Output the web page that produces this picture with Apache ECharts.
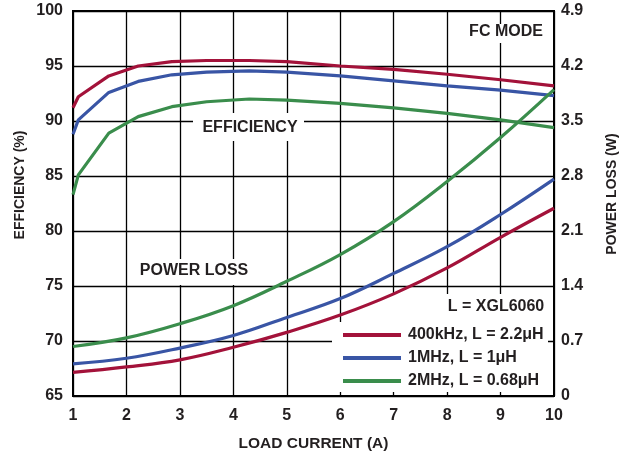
<!DOCTYPE html>
<html>
<head>
    <meta charset="utf-8">
    <title>Efficiency and power loss vs load current</title>
    <script src="https://cdn.jsdelivr.net/npm/echarts@6/dist/echarts.min.js"></script>
    <style type="text/css">
        html, body {
            margin: 0;
            padding: 0;
            background: #ffffff;
        }
        #chart {
            width: 626px;
            height: 457px;
        }
    </style>
</head>
<body>
<div id="chart"></div>
<script>
    // load current (A) where the efficiency curves were sampled
    var effCurrent = [1, 1.1, 1.67, 2.22, 2.85, 3.5, 4.3, 5, 6, 7, 8, 9, 10];
    // efficiency (%)
    var eff400k = [91.2, 92.2, 94.1, 95.0, 95.4, 95.5, 95.5, 95.4, 95.0, 94.7, 94.25, 93.75, 93.2];
    var eff1M = [88.8, 90.1, 92.6, 93.6, 94.2, 94.45, 94.55, 94.45, 94.1, 93.65, 93.2, 92.8, 92.3];
    var eff2M = [83.3, 85.1, 88.9, 90.4, 91.3, 91.75, 92.0, 91.9, 91.6, 91.2, 90.7, 90.1, 89.4];

    // load current (A) for the power loss curves
    var lossCurrent = [1, 2, 3, 4, 5, 6, 7, 8, 9, 10];
    // power loss (W)
    var loss400k = [0.30, 0.37, 0.46, 0.62, 0.81, 1.03, 1.30, 1.63, 2.02, 2.39];
    var loss1M = [0.41, 0.48, 0.61, 0.77, 1.00, 1.24, 1.56, 1.90, 2.31, 2.76];
    var loss2M = [0.63, 0.74, 0.92, 1.15, 1.46, 1.80, 2.22, 2.73, 3.29, 3.90];

    var seriesNames = ['400kHz, L = 2.2μH', '1MHz, L = 1μH', '2MHz, L = 0.68μH'];
    var seriesColors = ['#a3123a', '#3955a5', '#3a8d4c'];

    var textColor = '#231f20';
    var fontName = '"Liberation Sans", Arial, sans-serif';

    function pairs(xs, ys) {
        var out = [];
        for (var i = 0; i < xs.length; i++) {
            out.push([xs[i], ys[i]]);
        }
        return out;
    }

    function effSeries(idx, values) {
        return {
            name: seriesNames[idx],
            type: 'line',
            yAxisIndex: 0,
            data: pairs(effCurrent, values),
            showSymbol: false,
            lineStyle: {color: seriesColors[idx], width: 3.2},
            itemStyle: {color: seriesColors[idx]}
        };
    }

    function lossSeries(idx, values) {
        return {
            name: seriesNames[idx],
            type: 'line',
            yAxisIndex: 1,
            smooth: 0.4,
            data: pairs(lossCurrent, values),
            showSymbol: false,
            lineStyle: {color: seriesColors[idx], width: 3.2},
            itemStyle: {color: seriesColors[idx]}
        };
    }

    // white boxes behind the labels, on top of the grid lines
    function whiteBox(x, y, w, h) {
        return {
            type: 'rect',
            z: 1,
            shape: {x: x, y: y, width: w, height: h},
            style: {fill: '#ffffff'}
        };
    }

    function label(text, x, y, size, rotate) {
        return {
            type: 'text',
            z: 5,
            x: x,
            y: y,
            rotation: rotate ? Math.PI / 2 : 0,
            style: {
                text: text,
                fill: textColor,
                font: 'bold ' + size + 'px ' + fontName,
                textAlign: 'center',
                textVerticalAlign: 'middle'
            }
        };
    }

    var chart = echarts.init(document.getElementById('chart'));

    var option = {
        animation: false,
        textStyle: {fontFamily: fontName},
        grid: {
            left: 73,
            right: 72,
            top: 11,
            bottom: 60,
            show: true,
            borderColor: '#000000',
            borderWidth: 2,
            backgroundColor: 'transparent'
        },
        legend: {
            data: seriesNames,
            orient: 'vertical',
            left: 338,
            top: 322,
            icon: 'rect',
            itemWidth: 58,
            itemHeight: 4,
            itemGap: 7,
            textStyle: {
                color: textColor,
                fontSize: 16,
                fontWeight: 'bold',
                padding: [0, 0, 0, 2]
            }
        },
        xAxis: {
            type: 'value',
            min: 1,
            max: 10,
            interval: 1,
            name: 'LOAD CURRENT (A)',
            nameLocation: 'middle',
            nameGap: 40,
            nameTextStyle: {color: textColor, fontSize: 15.5, fontWeight: 'bold'},
            axisLine: {show: false},
            axisTick: {show: false},
            axisLabel: {color: textColor, fontSize: 16, fontWeight: 'bold', margin: 12},
            splitLine: {show: true, lineStyle: {color: '#000000', width: 1.3}}
        },
        yAxis: [
            {
                type: 'value',
                min: 65,
                max: 100,
                interval: 5,
                axisLine: {show: false},
                axisTick: {show: false},
                axisLabel: {color: textColor, fontSize: 16, fontWeight: 'bold', margin: 10},
                splitLine: {show: true, lineStyle: {color: '#000000', width: 1.3}}
            },
            {
                type: 'value',
                min: 0,
                max: 4.9,
                interval: 0.7,
                position: 'right',
                axisLine: {show: false},
                axisTick: {show: false},
                axisLabel: {
                    color: textColor, fontSize: 16, fontWeight: 'bold', margin: 7,
                    formatter: function (v) {
                        return v === 0 ? '0' : v.toFixed(1);
                    }
                },
                splitLine: {show: false}
            }
        ],
        graphic: {
            elements: [
                whiteBox(193, 113, 111, 28),
                whiteBox(132, 259, 124, 26),
                whiteBox(462, 24, 88, 19),
                whiteBox(332, 322, 216, 70),
                whiteBox(360, 294, 188, 28),
                label('EFFICIENCY', 250, 128, 16),
                label('POWER LOSS', 194, 271, 16),
                label('FC MODE', 506, 32, 16),
                label('L = XGL6060', 496, 307, 16),
                label('EFFICIENCY (%)', 20, 185, 14, true),
                label('POWER LOSS (W)', 612, 194, 14, true)
            ]
        },
        series: [
            effSeries(0, eff400k),
            effSeries(1, eff1M),
            effSeries(2, eff2M),
            lossSeries(0, loss400k),
            lossSeries(1, loss1M),
            lossSeries(2, loss2M)
        ]
    };

    chart.setOption(option);
</script>
</body>
</html>
